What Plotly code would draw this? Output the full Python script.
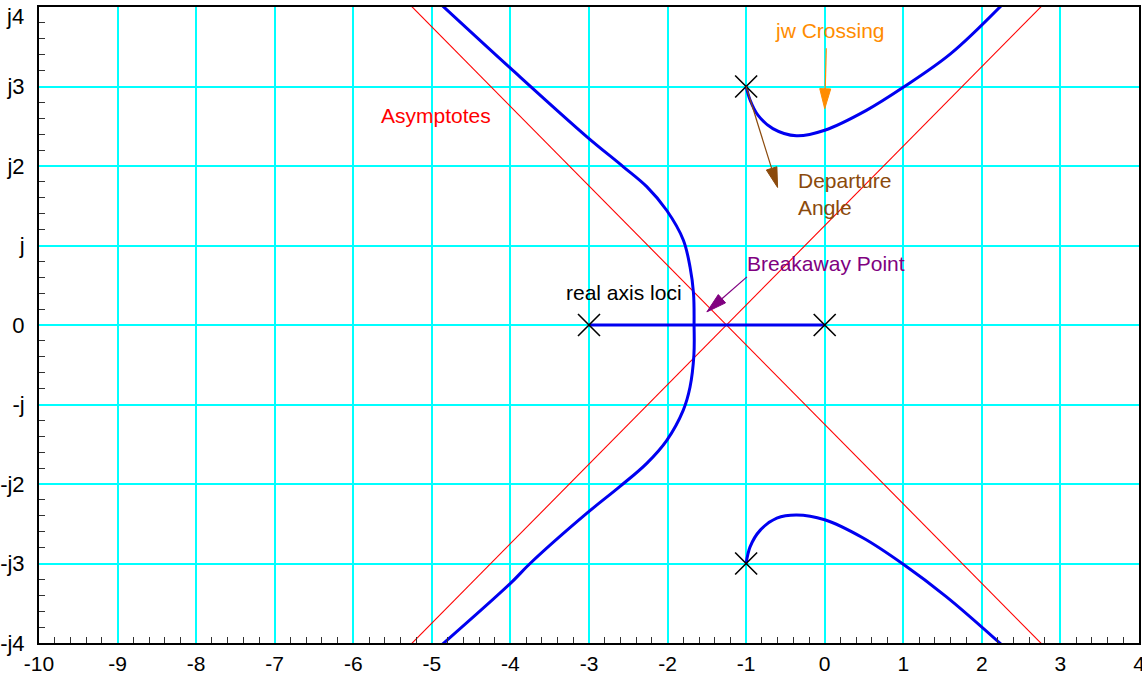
import plotly.graph_objects as go

# Open-loop poles: s = 0, s = -3, s = -1 ± j3
pole_re = [0.0, -3.0, -1.0, -1.0]
pole_im = [0.0, 0.0, 3.0, -3.0]

# Root-locus branches (real part, imaginary part)
real_re = [-3.0, 0.0]
real_im = [0.0, 0.0]

ul_re = [-1.663, -1.670, -1.714, -1.80, -2.01, -2.265, -2.563, -3.03, -4.0, -4.87]
ul_im = [0.0, 0.40, 0.73, 1.07, 1.44, 1.74, 1.99, 2.37, 3.23, 4.02]

ll_re = [-1.663, -1.665, -1.714, -1.80, -2.01, -2.265, -2.605, -3.03, -3.75, -4.0, -4.87]
ll_im = [0.0, -0.38, -0.78, -1.07, -1.45, -1.74, -2.03, -2.37, -3.00, -3.25, -4.02]

ur_re = [-1.0, -0.95, -0.85, -0.66, -0.36, 0.0, 0.53, 1.0, 1.6, 2.25]
ur_im = [3.0, 2.83, 2.64, 2.47, 2.38, 2.45, 2.70, 2.99, 3.41, 4.02]

lr_re = [-1.0, -0.95, -0.82, -0.61, -0.36, 0.0, 0.49, 1.0, 1.55, 2.25]
lr_im = [-3.0, -2.79, -2.58, -2.43, -2.39, -2.45, -2.68, -3.01, -3.42, -4.02]

# Axis ticks (the top "j4" label is placed separately)
x_ticks = list(range(-10, 5))
x_ticktext = [str(v) for v in x_ticks]
y_ticks = [-4, -3, -2, -1, 0, 1, 2, 3, 4]
y_ticktext = ["-j4", "-j3", "-j2", "-j", "0", "j", "j2", "j3", ""]

X_RANGE = [-10, 4]
Y_RANGE = [-4, 4]

W, H = 1142, 677
M = dict(l=39, r=3, t=7, b=34)
PX_X = (W - M["l"] - M["r"]) / (X_RANGE[1] - X_RANGE[0])
PX_Y = (H - M["t"] - M["b"]) / (Y_RANGE[1] - Y_RANGE[0])

FONT = "Liberation Sans, Arial, Helvetica, sans-serif"

fig = go.Figure()

# Asymptotes through the pole centroid at ±45° and ±135°
centroid = sum(pole_re) / len(pole_re)
for sign in (1, -1):
    ys = [Y_RANGE[0] - 0.2, Y_RANGE[1] + 0.2]
    xs = [centroid + sign * y for y in ys]
    fig.add_trace(go.Scatter(x=xs, y=ys, mode="lines",
                             line=dict(color="#ff0000", width=1.1), hoverinfo="skip"))

# Locus branches
fig.add_trace(go.Scatter(x=real_re, y=real_im, mode="lines",
                         line=dict(color="#0000f0", width=3)))
for bx, by in ((ul_re, ul_im), (ll_re, ll_im), (ur_re, ur_im), (lr_re, lr_im)):
    fig.add_trace(go.Scatter(x=bx, y=by, mode="lines",
                             line=dict(color="#0000f0", width=3, shape="spline",
                                       smoothing=1.0)))

# Poles
fig.add_trace(go.Scatter(x=pole_re, y=pole_im, mode="markers",
                         marker=dict(symbol="x-thin", size=22,
                                     line=dict(color="black", width=1.6))))


def arrow(tail, tip, color, width=1.2, head_len=20, head_half=5.5):
    """Arrow from tail to tip (data coords) with a slim filled head."""
    dxp = (tip[0] - tail[0]) * PX_X
    dyp = (tip[1] - tail[1]) * PX_Y
    n = (dxp ** 2 + dyp ** 2) ** 0.5
    ux, uy = dxp / n, dyp / n
    bx = tip[0] - ux * head_len / PX_X
    by = tip[1] - uy * head_len / PX_Y
    px, py = -uy, ux
    p1 = (bx + px * head_half / PX_X, by + py * head_half / PX_Y)
    p2 = (bx - px * head_half / PX_X, by - py * head_half / PX_Y)
    fig.add_shape(type="line", x0=tail[0], y0=tail[1], x1=bx, y1=by,
                  line=dict(color=color, width=width), xref="x", yref="y")
    fig.add_shape(type="path",
                  path=f"M {tip[0]},{tip[1]} L {p1[0]},{p1[1]} L {p2[0]},{p2[1]} Z",
                  fillcolor=color, line=dict(color=color, width=1), xref="x", yref="y")


ORANGE = "#ff8c00"
BROWN = "#8b4a0c"
PURPLE = "#800080"

arrow((0.02, 3.48), (0.0, 2.72), ORANGE)
arrow((-1.0, 3.0), (-0.60, 1.73), BROWN)
arrow((-0.99, 0.605), (-1.50, 0.165), PURPLE)


def label(x, y, text, color, xanchor="left"):
    fig.add_annotation(x=x, y=y, text=text, showarrow=False, xanchor=xanchor,
                       yanchor="middle", align="left",
                       font=dict(family=FONT, size=21, color=color))


label(0.068, 3.707, "jw Crossing", ORANGE, xanchor="center")
label(-0.37, 1.651, "Departure<br>Angle", BROWN)
label(-1.01, 0.778, "Breakaway Point", PURPLE)
label(-3.32, 0.413, "real axis loci", "black")
label(-5.675, 2.638, "Asymptotes", "red")

# Top tick label kept inside the canvas
fig.add_annotation(x=0, y=1, xref="paper", yref="paper", text="j4", showarrow=False,
                   xanchor="right", yanchor="top", xshift=-13, yshift=5,
                   font=dict(family=FONT, size=22, color="black"))

axis_common = dict(
    showline=True, linecolor="black", linewidth=2, mirror=True,
    showgrid=True, gridcolor="#00ffff", gridwidth=1.5,
    zeroline=False, ticks="inside", ticklen=10, tickcolor="#00ffff", tickwidth=1.5,
    automargin=False,
    minor=dict(dtick=0.2, ticks="inside", ticklen=6, tickcolor="#333333",
               tickwidth=1, showgrid=False),
    fixedrange=True,
)

fig.update_xaxes(range=X_RANGE, tickvals=x_ticks, ticktext=x_ticktext,
                 tickfont=dict(family=FONT, size=21, color="black"),
                 ticklabeloverflow="allow", ticklabelstandoff=1, **axis_common)
fig.update_yaxes(range=Y_RANGE, tickvals=y_ticks, ticktext=y_ticktext,
                 tickfont=dict(family=FONT, size=22, color="black"),
                 ticklabelstandoff=8, **axis_common)

fig.update_layout(
    width=W, height=H, margin=M,
    paper_bgcolor="white", plot_bgcolor="white",
    showlegend=False,
    font=dict(family=FONT),
)

fig.write_html("out.html")
